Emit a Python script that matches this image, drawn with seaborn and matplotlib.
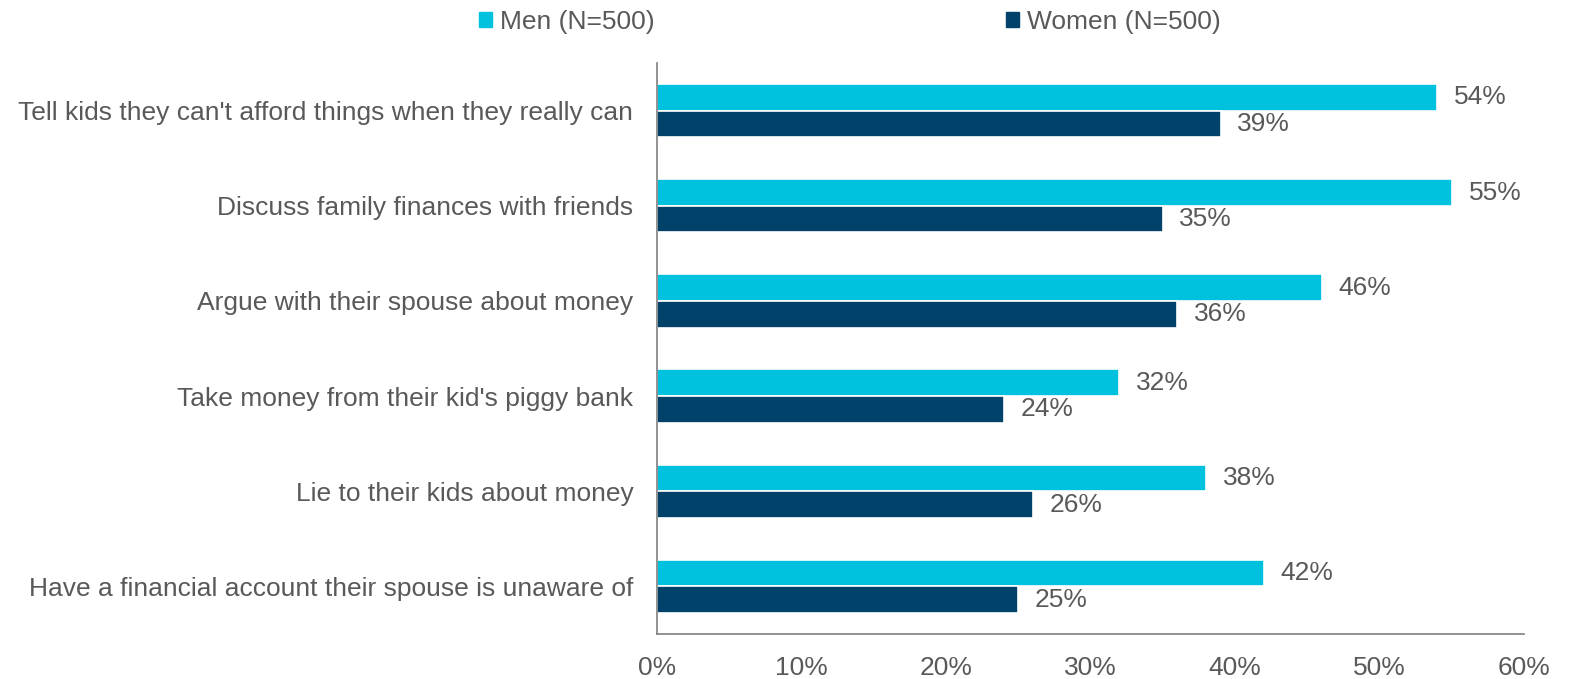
import matplotlib
matplotlib.use("Agg")
import matplotlib.pyplot as plt
import seaborn as sns
import pandas as pd
from matplotlib.ticker import PercentFormatter

categories = [
    "Tell kids they can't afford things when they really can",
    "Discuss family finances with friends",
    "Argue with their spouse about money",
    "Take money from their kid's piggy bank",
    "Lie to their kids about money",
    "Have a financial account their spouse is unaware of",
]
men = [54, 55, 46, 32, 38, 42]
women = [39, 35, 36, 24, 26, 25]
series = ["Men (N=500)", "Women (N=500)"]
colors = ["#00C1DE", "#00426A"]
xticks = [0, 10, 20, 30, 40, 50, 60]

df = pd.DataFrame({
    "Behavior": categories * 2,
    "Group": [series[0]] * len(categories) + [series[1]] * len(categories),
    "Value": men + women,
})

sns.set_style("white")
plt.rcParams["font.family"] = ["Liberation Sans", "DejaVu Sans"]
text_color = "#595959"
fs = 19

fig = plt.figure(figsize=(15.8, 6.79), dpi=100)
ax = fig.add_axes([0.4158, 0.0663, 0.9646 - 0.4158, 0.907 - 0.0663])

sns.barplot(data=df, y="Behavior", x="Value", hue="Group", orient="h",
            palette=colors, saturation=1, width=0.56, ax=ax,
            edgecolor="white", linewidth=1.2, legend=False)

for cont in ax.containers:
    ax.bar_label(cont, labels=[f"{v:.0f}%" for v in cont.datavalues],
                 padding=12, fontsize=fs, color=text_color)

ax.set_xlim(0, 60)
ax.set_xticks(xticks)
ax.xaxis.set_major_formatter(PercentFormatter(decimals=0))
ax.set_xlabel("")
ax.set_ylabel("")
ax.tick_params(axis="both", length=0, labelsize=fs, labelcolor=text_color)
ax.tick_params(axis="x", pad=16)
ax.tick_params(axis="y", pad=17)
for side in ["top", "right"]:
    ax.spines[side].set_visible(False)
for side in ["left", "bottom"]:
    ax.spines[side].set_color("#7f7f7f")
    ax.spines[side].set_linewidth(1.2)

handles = [plt.Rectangle((0, 0), 1, 1, color=c) for c in colors]
fig.legend(handles, series, loc="center", bbox_to_anchor=(850 / 1580, 1 - 22 / 679),
           ncol=2, frameon=False, fontsize=fs, labelcolor=text_color,
           handlelength=0.5, handleheight=0.5, handletextpad=0.3,
           columnspacing=13.3)

fig.savefig("out.png", dpi=100)
